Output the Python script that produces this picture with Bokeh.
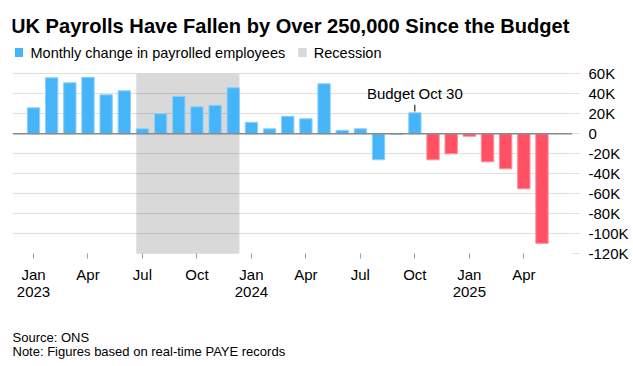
from bokeh.plotting import figure
from bokeh.models import (FixedTicker, Label, Span, Range1d, ColumnDataSource,
                          BoxAnnotation)
from bokeh.embed import file_html
from bokeh.resources import INLINE

# ---------------- data ----------------
months = ["2023-01", "2023-02", "2023-03", "2023-04", "2023-05", "2023-06",
          "2023-07", "2023-08", "2023-09", "2023-10", "2023-11", "2023-12",
          "2024-01", "2024-02", "2024-03", "2024-04", "2024-05", "2024-06",
          "2024-07", "2024-08", "2024-09", "2024-10", "2024-11", "2024-12",
          "2025-01", "2025-02", "2025-03", "2025-04", "2025-05"]
payroll_change_k = [26, 56, 51, 56.5, 39, 43,
                    5, 20, 37.5, 27, 28.5, 46,
                    11.5, 5, 17.5, 15, 50, 3.5,
                    5, -26, -0.7, 21, -26, -20,
                    -2.5, -28, -35, -55, -109.5]
month_names = {"01": "Jan", "04": "Apr", "07": "Jul", "10": "Oct"}
y_ticks = [-120, -100, -80, -60, -40, -20, 0, 20, 40, 60]
y_tick_labels = ["-120K", "-100K", "-80K", "-60K", "-40K", "-20K", "0", "20K", "40K", "60K"]
recession_start, recession_end = "2023-07", "2023-12"
budget_month = "2024-10"
budget_label = "Budget Oct 30"

title_text = "UK Payrolls Have Fallen by Over 250,000 Since the Budget"
legend_series = "Monthly change in payrolled employees"
legend_recession = "Recession"
source_text = "Source: ONS"
note_text = "Note: Figures based on real-time PAYE records"

# ---------------- styling / layout ----------------
BLUE, BLUE_EDGE = "#45B4F9", "#8FD0FA"
RED, RED_EDGE = "#FF5163", "#FF8E98"
GREY_BOX = "#D9D9D9"
FONT = "Liberation Sans"
BAR_W = 0.68
W, H = 633, 366
FRAME_L, FRAME_R = 12, 61          # borders left / right (px)
PX_PER_K = 1.0                     # vertical scale
ZERO_Y = 133.3                     # pixel row of the zero line
PX_PER_MONTH = 18.16
FIRST_BAR_X = 33.0

y_top = ZERO_Y / PX_PER_K
y_bot = y_top - H / PX_PER_K
x_start = -(FIRST_BAR_X - FRAME_L) / PX_PER_MONTH
x_end = x_start + (W - FRAME_L - FRAME_R) / PX_PER_MONTH


def sx(img_x):
    return img_x - FRAME_L


def sy(img_y):
    return H - img_y


x = list(range(len(months)))
budget_idx = months.index(budget_month)
fills = [RED if i > budget_idx else BLUE for i in x]
edges = [RED_EDGE if i > budget_idx else BLUE_EDGE for i in x]
src = ColumnDataSource(dict(x=x, top=payroll_change_k, fill=fills, edge=edges))

p = figure(width=W, height=H, output_backend="svg", toolbar_location=None,
           x_range=Range1d(x_start, x_end), y_range=Range1d(y_bot, y_top),
           y_axis_location="right",
           min_border_left=FRAME_L, min_border_right=FRAME_R,
           min_border_top=0, min_border_bottom=0,
           outline_line_color=None, background_fill_color="white",
           border_fill_color="white")

# recession shading (under the grid)
rs, re_ = months.index(recession_start), months.index(recession_end)
p.quad(left=[rs - BAR_W / 2], right=[re_ + BAR_W / 2], top=[y_ticks[-1]], bottom=[y_ticks[0]],
       fill_color=GREY_BOX, line_color=None, level="image")

p.vbar(x="x", top="top", width=BAR_W, source=src, fill_color="fill",
       line_color="edge", line_width=1)

p.add_layout(Span(location=0, dimension="width", line_color="#8A8A8A", line_width=1.5))

# grid
p.xgrid.visible = False
p.ygrid.ticker = FixedTicker(ticks=[t for t in y_ticks if t not in (0, y_ticks[0])])
p.ygrid.grid_line_color = "black"
p.ygrid.grid_line_alpha = 0.12
p.ygrid.grid_line_width = 1

# x axis, pinned to the bottom of the value scale
tick_idx, tick_lab = [], {}
for i, m in enumerate(months):
    yr, mo = m.split("-")
    if mo in month_names:
        tick_idx.append(i)
        tick_lab[i] = month_names[mo] + ("\n" + yr if mo == "01" else "")
xa = p.xaxis[0]
xa.fixed_location = y_ticks[0]
xa.ticker = FixedTicker(ticks=tick_idx)
xa.major_label_overrides = tick_lab
xa.axis_line_color = None
xa.major_tick_line_color = "#9A9A9A"
xa.major_tick_in = 0
xa.major_tick_out = 5
xa.minor_tick_line_color = None
xa.major_label_text_font = FONT
xa.major_label_text_font_size = "15px"
xa.major_label_text_color = "#000000"
xa.major_label_text_line_height = 1.0
xa.major_label_standoff = 7

ya = p.yaxis[0]
ya.ticker = FixedTicker(ticks=y_ticks)
ya.major_label_overrides = dict(zip(y_ticks, y_tick_labels))
ya.axis_line_color = None
ya.major_tick_line_color = "#E0E0E0"
ya.major_tick_in = 0
ya.major_tick_out = 8
ya.minor_tick_line_color = None
ya.major_label_text_font = FONT
ya.major_label_text_font_size = "15px"
ya.major_label_text_color = "#000000"
ya.major_label_standoff = 8

# budget annotation
bv = payroll_change_k[budget_idx]
p.segment(x0=[budget_idx], x1=[budget_idx], y0=[bv + 1.3], y1=[bv + 8],
          line_color="#000000", line_width=1)
p.add_layout(Label(x=budget_idx, y=bv, y_offset=19.5, text=budget_label,
                   text_font=FONT, text_font_size="15px", text_color="#000000",
                   text_align="center", text_baseline="middle"))

# title
p.add_layout(Label(x=sx(10.5), y=sy(25.3), x_units="screen", y_units="screen",
                   text=title_text, text_font=FONT, text_font_size="20.1px",
                   text_font_style="bold", text_color="#000000",
                   text_baseline="middle"))

# legend
for (l, r, col) in [(14.5, 22.5, BLUE), (297.7, 306.2, GREY_BOX)]:
    p.add_layout(BoxAnnotation(left=sx(l), right=sx(r), top=sy(47.5), bottom=sy(56.5),
                               left_units="screen", right_units="screen",
                               top_units="screen", bottom_units="screen",
                               fill_color=col, fill_alpha=1.0, line_color=None))
for (lx, txt) in [(30, legend_series), (313.3, legend_recession)]:
    p.add_layout(Label(x=sx(lx), y=sy(52.5), x_units="screen", y_units="screen",
                       text=txt, text_font=FONT, text_font_size="14.5px",
                       text_color="#000000", text_baseline="middle"))

# footer
for (cy, txt) in [(336.7, source_text), (350.5, note_text)]:
    p.add_layout(Label(x=sx(12), y=sy(cy), x_units="screen", y_units="screen",
                       text=txt, text_font=FONT, text_font_size="13px",
                       text_color="#000000", text_baseline="middle"))

open("out.html", "w").write(file_html(p, INLINE))
